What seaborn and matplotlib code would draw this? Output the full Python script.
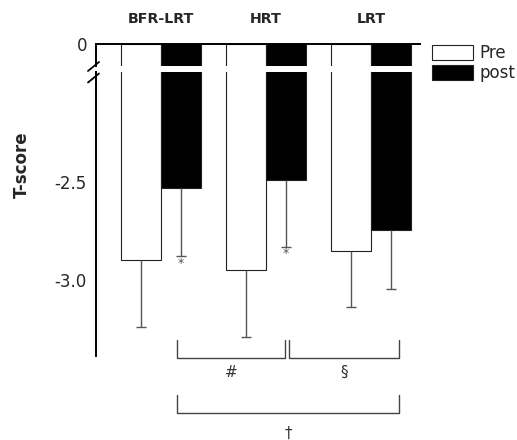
import matplotlib
matplotlib.use("Agg")
import matplotlib.pyplot as plt
from matplotlib.lines import Line2D
import pandas as pd
import seaborn as sns

# T-score means and SD
groups = ["BFR-LRT", "HRT", "LRT"]
times = ["Pre", "post"]
pre_mean = [-2.90, -2.95, -2.85]
post_mean = [-2.53, -2.49, -2.745]
pre_sd = [0.34, 0.34, 0.29]
post_sd = [0.35, 0.34, 0.30]
post_marks = ["*", "*", ""]
y_ticks = [-2.5, -3.0]
y_ticklabels = ["-2.5", "-3.0"]

df = pd.DataFrame({
    "group": groups * 2,
    "time": [times[0]] * 3 + [times[1]] * 3,
    "tscore": pre_mean + post_mean,
})

sns.set_theme(style="white")
plt.rcParams["font.family"] = ["DejaVu Sans"]

W, H = 517, 440
unit = 196  # pixels per T-score unit


def px_box(left, top, right, bottom):
    return [left / W, 1 - bottom / H, (right - left) / W, (bottom - top) / H]


fig = plt.figure(figsize=(W / 100, H / 100), dpi=100)
ax_top = fig.add_axes(px_box(96, 44, 420, 66))
ax_bot = fig.add_axes(px_box(96, 72, 420, 440))

for ax in (ax_top, ax_bot):
    sns.barplot(data=df, x="group", y="tscore", hue="time", order=groups,
                hue_order=times, palette={"Pre": "white", "post": "black"},
                saturation=1, width=0.77, edgecolor="#222222", linewidth=0.8,
                errorbar=None, legend=False, ax=ax)
    ax.set_xlim(-0.619, 2.467)
    ax.set_xlabel("")
    ax.set_ylabel("")
    ax.tick_params(axis="both", length=0, labelsize=12, pad=6.5)
    for s in ax.spines.values():
        s.set_color("black")
        s.set_linewidth(1.4)

ax_top.set_ylim(-22 / unit, 0)
ax_bot.set_ylim(-2.5 - (440 - 182) / unit, -2.5 + (182 - 72) / unit)

# top part: only the zero line and group names
ax_top.spines["right"].set_visible(False)
ax_top.spines["bottom"].set_visible(False)
ax_top.set_yticks([0])
ax_top.set_yticklabels(["0"])
ax_top.xaxis.tick_top()
ax_top.set_xticks(range(len(groups)))
ax_top.set_xticklabels(groups, fontweight="bold", fontsize=10.3)
ax_top.tick_params(axis="x", pad=13)

ax_bot.spines["right"].set_visible(False)
ax_bot.spines["top"].set_visible(False)
ax_bot.spines["bottom"].set_visible(False)
ax_bot.spines["left"].set_bounds(-3.39, ax_bot.get_ylim()[1])
ax_bot.set_xticks([])
ax_bot.set_yticks(y_ticks)
ax_bot.set_yticklabels(y_ticklabels)

# one-sided (downward) error bars
for cont, means, sds in zip(ax_bot.containers, [pre_mean, post_mean], [pre_sd, post_sd]):
    xs = [p.get_x() + p.get_width() / 2 for p in cont]
    eb = ax_bot.errorbar(xs, means, yerr=[sds, [0] * len(sds)], fmt="none",
                         ecolor="#555555", elinewidth=1, capsize=3.3, capthick=1)
    eb[1][1].set_visible(False)

post_x = [p.get_x() + p.get_width() / 2 for p in ax_bot.containers[1]]
for x, m, s, mark in zip(post_x, post_mean, post_sd, post_marks):
    if mark:
        ax_bot.text(x, m - s - 0.035, mark, ha="center", va="center",
                    fontsize=9, color="#555555")

# axis break marks
for cy in (66.5, 78):
    fig.add_artist(Line2D([88 / W, 99 / W], [1 - (cy + 4.5) / H, 1 - (cy - 4.5) / H],
                          color="black", lw=1.3, transform=fig.transFigure))

# between-group comparison brackets
def bracket(x0, x1, ytop, ybot, label, ylab):
    ax_bot.plot([x0, x0, x1, x1], [ytop, ybot, ybot, ytop], color="#444444", lw=1)
    ax_bot.text((x0 + x1) / 2, ylab, label, ha="center", va="center",
                fontsize=11, color="#333333")


bracket(0.152, 1.181, -3.306, -3.398, "#", -3.47)
bracket(1.219, 2.267, -3.306, -3.398, "§", -3.47)
bracket(0.152, 2.267, -3.587, -3.679, "†", -3.78)

fig.text(22 / W, 1 - 165 / H, "T-score", rotation=90, ha="center", va="center",
         fontsize=12, fontweight="bold")

handles = [ax_top.containers[0][0], ax_top.containers[1][0]]
fig.legend(handles, times, loc="upper left", bbox_to_anchor=(432 / W, 1 - 44 / H),
           frameon=False, borderpad=0, borderaxespad=0, handlelength=2.45,
           handleheight=1.05, labelspacing=0.12, handletextpad=0.4, fontsize=12)

fig.savefig("out.png", dpi=100)
